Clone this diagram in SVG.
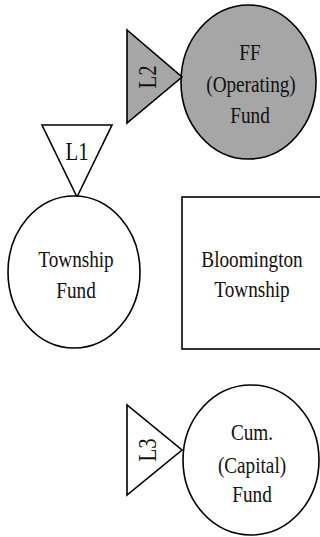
<svg xmlns="http://www.w3.org/2000/svg" width="320" height="537" viewBox="0 0 320 537">
<style>
.s{stroke:#000;stroke-width:1.6;}
.g{fill:#a6a6a6;}
.w{fill:#fff;}
text{font-family:"Liberation Serif","Times New Roman",serif;font-size:24px;fill:#111;text-anchor:middle;}
.l{font-size:26px;}
</style>
<rect width="320" height="537" fill="#fff"/>
<g id="connectors"></g>
<g id="ff">
<ellipse class="s g" cx="248.5" cy="82" rx="67.5" ry="77"/>
<text transform="translate(250,60) scale(0.8,1)">FF</text>
<text transform="translate(251,92) scale(0.8,1)">(Operating)</text>
<text transform="translate(250,123) scale(0.8,1)">Fund</text>
</g>
<g id="l2">
<polygon class="s g" points="127,30 127,123 182,77"/>
<text class="l" transform="translate(156,77) rotate(-90) scale(0.8,1)">L2</text>
</g>
<g id="l1">
<polygon class="s w" points="42,125 112,125 77,197"/>
<text class="l" transform="translate(77,160) scale(0.8,1)">L1</text>
</g>
<g id="township">
<ellipse class="s w" cx="74" cy="272" rx="66" ry="76"/>
<text transform="translate(76,267) scale(0.8,1)">Township</text>
<text transform="translate(76,298) scale(0.8,1)">Fund</text>
</g>
<g id="bloomington">
<rect class="s w" x="182" y="197" width="142" height="152"/>
<text transform="translate(252,267) scale(0.8,1)">Bloomington</text>
<text transform="translate(252,297) scale(0.8,1)">Township</text>
</g>
<g id="cum">
<ellipse class="s w" cx="251" cy="460" rx="68" ry="75"/>
<text transform="translate(252,440) scale(0.8,1)">Cum.</text>
<text transform="translate(252,473) scale(0.8,1)">(Capital)</text>
<text transform="translate(252,502) scale(0.8,1)">Fund</text>
</g>
<g id="l3">
<polygon class="s w" points="127,405 127,495 182,450"/>
<text class="l" transform="translate(156,450) rotate(-90) scale(0.8,1)">L3</text>
</g>
</svg>
